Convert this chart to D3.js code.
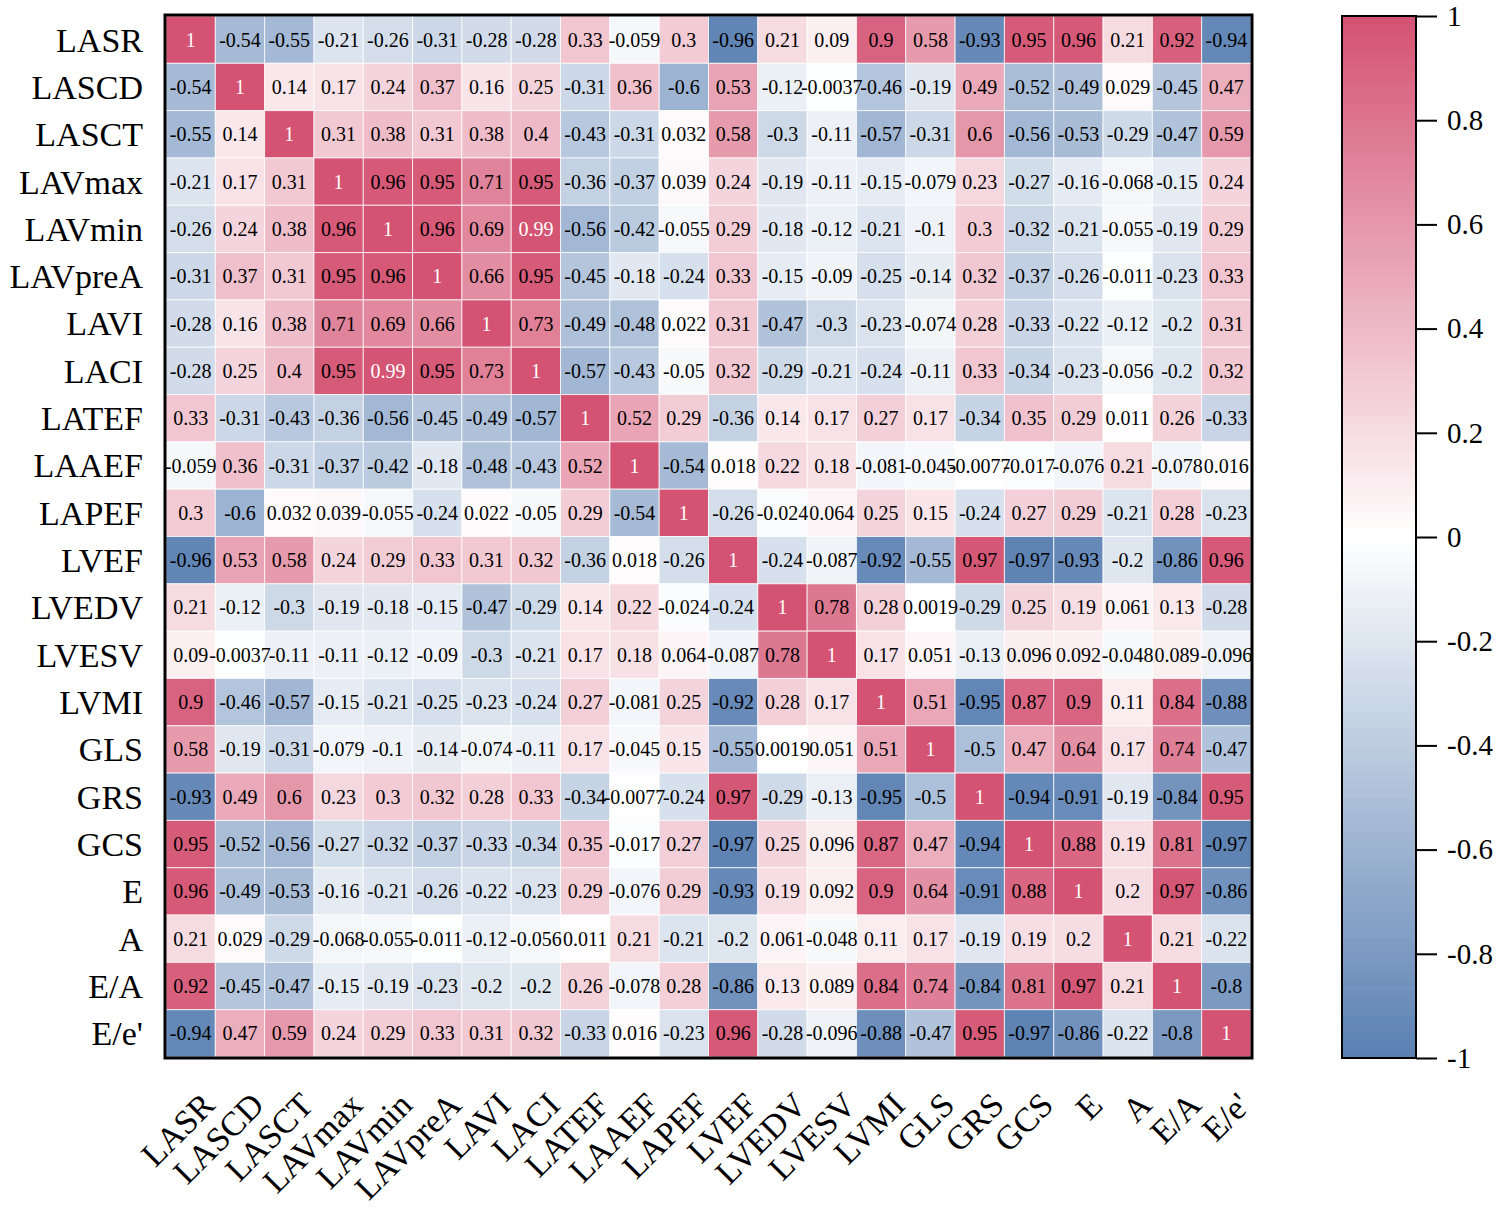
<!DOCTYPE html>
<html>
<head>
<meta charset="utf-8">
<script src="https://cdn.jsdelivr.net/npm/d3@7"></script>
<style>
  html, body { margin: 0; padding: 0; background: #fff; }
  svg { display: block; }
  text { font-family: "Liberation Serif", "Times New Roman", serif; }
</style>
</head>
<body>
<svg id="chart" width="1500" height="1211"></svg>
<script>
const variables = ["LASR","LASCD","LASCT","LAVmax","LAVmin","LAVpreA","LAVI","LACI","LATEF","LAAEF","LAPEF","LVEF","LVEDV","LVESV","LVMI","GLS","GRS","GCS","E","A","E/A","E/e'"];

const rowLASR   = [1, -0.54, -0.55, -0.21, -0.26, -0.31, -0.28, -0.28, 0.33, -0.059, 0.3, -0.96, 0.21, 0.09, 0.9, 0.58, -0.93, 0.95, 0.96, 0.21, 0.92, -0.94];
const rowLASCD  = [-0.54, 1, 0.14, 0.17, 0.24, 0.37, 0.16, 0.25, -0.31, 0.36, -0.6, 0.53, -0.12, -0.0037, -0.46, -0.19, 0.49, -0.52, -0.49, 0.029, -0.45, 0.47];
const rowLASCT  = [-0.55, 0.14, 1, 0.31, 0.38, 0.31, 0.38, 0.4, -0.43, -0.31, 0.032, 0.58, -0.3, -0.11, -0.57, -0.31, 0.6, -0.56, -0.53, -0.29, -0.47, 0.59];
const rowLAVmax = [-0.21, 0.17, 0.31, 1, 0.96, 0.95, 0.71, 0.95, -0.36, -0.37, 0.039, 0.24, -0.19, -0.11, -0.15, -0.079, 0.23, -0.27, -0.16, -0.068, -0.15, 0.24];
const rowLAVmin = [-0.26, 0.24, 0.38, 0.96, 1, 0.96, 0.69, 0.99, -0.56, -0.42, -0.055, 0.29, -0.18, -0.12, -0.21, -0.1, 0.3, -0.32, -0.21, -0.055, -0.19, 0.29];
const rowLAVpreA= [-0.31, 0.37, 0.31, 0.95, 0.96, 1, 0.66, 0.95, -0.45, -0.18, -0.24, 0.33, -0.15, -0.09, -0.25, -0.14, 0.32, -0.37, -0.26, -0.011, -0.23, 0.33];
const rowLAVI   = [-0.28, 0.16, 0.38, 0.71, 0.69, 0.66, 1, 0.73, -0.49, -0.48, 0.022, 0.31, -0.47, -0.3, -0.23, -0.074, 0.28, -0.33, -0.22, -0.12, -0.2, 0.31];
const rowLACI   = [-0.28, 0.25, 0.4, 0.95, 0.99, 0.95, 0.73, 1, -0.57, -0.43, -0.05, 0.32, -0.29, -0.21, -0.24, -0.11, 0.33, -0.34, -0.23, -0.056, -0.2, 0.32];
const rowLATEF  = [0.33, -0.31, -0.43, -0.36, -0.56, -0.45, -0.49, -0.57, 1, 0.52, 0.29, -0.36, 0.14, 0.17, 0.27, 0.17, -0.34, 0.35, 0.29, 0.011, 0.26, -0.33];
const rowLAAEF  = [-0.059, 0.36, -0.31, -0.37, -0.42, -0.18, -0.48, -0.43, 0.52, 1, -0.54, 0.018, 0.22, 0.18, -0.081, -0.045, -0.0077, -0.017, -0.076, 0.21, -0.078, 0.016];
const rowLAPEF  = [0.3, -0.6, 0.032, 0.039, -0.055, -0.24, 0.022, -0.05, 0.29, -0.54, 1, -0.26, -0.024, 0.064, 0.25, 0.15, -0.24, 0.27, 0.29, -0.21, 0.28, -0.23];
const rowLVEF   = [-0.96, 0.53, 0.58, 0.24, 0.29, 0.33, 0.31, 0.32, -0.36, 0.018, -0.26, 1, -0.24, -0.087, -0.92, -0.55, 0.97, -0.97, -0.93, -0.2, -0.86, 0.96];
const rowLVEDV  = [0.21, -0.12, -0.3, -0.19, -0.18, -0.15, -0.47, -0.29, 0.14, 0.22, -0.024, -0.24, 1, 0.78, 0.28, 0.0019, -0.29, 0.25, 0.19, 0.061, 0.13, -0.28];
const rowLVESV  = [0.09, -0.0037, -0.11, -0.11, -0.12, -0.09, -0.3, -0.21, 0.17, 0.18, 0.064, -0.087, 0.78, 1, 0.17, 0.051, -0.13, 0.096, 0.092, -0.048, 0.089, -0.096];
const rowLVMI   = [0.9, -0.46, -0.57, -0.15, -0.21, -0.25, -0.23, -0.24, 0.27, -0.081, 0.25, -0.92, 0.28, 0.17, 1, 0.51, -0.95, 0.87, 0.9, 0.11, 0.84, -0.88];
const rowGLS    = [0.58, -0.19, -0.31, -0.079, -0.1, -0.14, -0.074, -0.11, 0.17, -0.045, 0.15, -0.55, 0.0019, 0.051, 0.51, 1, -0.5, 0.47, 0.64, 0.17, 0.74, -0.47];
const rowGRS    = [-0.93, 0.49, 0.6, 0.23, 0.3, 0.32, 0.28, 0.33, -0.34, -0.0077, -0.24, 0.97, -0.29, -0.13, -0.95, -0.5, 1, -0.94, -0.91, -0.19, -0.84, 0.95];
const rowGCS    = [0.95, -0.52, -0.56, -0.27, -0.32, -0.37, -0.33, -0.34, 0.35, -0.017, 0.27, -0.97, 0.25, 0.096, 0.87, 0.47, -0.94, 1, 0.88, 0.19, 0.81, -0.97];
const rowE      = [0.96, -0.49, -0.53, -0.16, -0.21, -0.26, -0.22, -0.23, 0.29, -0.076, 0.29, -0.93, 0.19, 0.092, 0.9, 0.64, -0.91, 0.88, 1, 0.2, 0.97, -0.86];
const rowA      = [0.21, 0.029, -0.29, -0.068, -0.055, -0.011, -0.12, -0.056, 0.011, 0.21, -0.21, -0.2, 0.061, -0.048, 0.11, 0.17, -0.19, 0.19, 0.2, 1, 0.21, -0.22];
const rowEA     = [0.92, -0.45, -0.47, -0.15, -0.19, -0.23, -0.2, -0.2, 0.26, -0.078, 0.28, -0.86, 0.13, 0.089, 0.84, 0.74, -0.84, 0.81, 0.97, 0.21, 1, -0.8];
const rowEe     = [-0.94, 0.47, 0.59, 0.24, 0.29, 0.33, 0.31, 0.32, -0.33, 0.016, -0.23, 0.96, -0.28, -0.096, -0.88, -0.47, 0.95, -0.97, -0.86, -0.22, -0.8, 1];

const matrixRows = [rowLASR,rowLASCD,rowLASCT,rowLAVmax,rowLAVmin,rowLAVpreA,rowLAVI,rowLACI,rowLATEF,rowLAAEF,rowLAPEF,rowLVEF,rowLVEDV,rowLVESV,rowLVMI,rowGLS,rowGRS,rowGCS,rowE,rowA,rowEA,rowEe];

const colorbarTicks = [1, 0.8, 0.6, 0.4, 0.2, 0, -0.2, -0.4, -0.6, -0.8, -1];
const colorStops = ["#5A80B2", "#FFFFFF", "#D45272"];

// ---- layout ----
const svg = d3.select("#chart");
const L = 166, T = 16, R = 1251, B = 1057;

const x = d3.scaleBand().domain(variables).range([L, R]).padding(0);
const y = d3.scaleBand().domain(variables).range([T, B]).padding(0);
const color = d3.scaleLinear().domain([-1, 0, 1]).range(colorStops).interpolate(d3.interpolateRgb);

const cells = [];
matrixRows.forEach((row, i) => row.forEach((v, j) => cells.push({r: variables[i], c: variables[j], v})));

const g = svg.append("g");
g.selectAll("rect.cell").data(cells).join("rect")
  .attr("class", "cell")
  .attr("x", d => x(d.c)).attr("y", d => y(d.r))
  .attr("width", x.bandwidth()).attr("height", y.bandwidth())
  .attr("fill", d => color(d.v))
  .attr("stroke", "#ffffff").attr("stroke-opacity", 0.75).attr("stroke-width", 1);

g.selectAll("text.val").data(cells).join("text")
  .attr("class", "val")
  .attr("x", d => x(d.c) + x.bandwidth() / 2)
  .attr("y", d => y(d.r) + y.bandwidth() / 2)
  .attr("dy", "0.35em")
  .attr("text-anchor", "middle")
  .attr("font-size", 20)
  .attr("fill", d => d.v >= 0.99 ? "#ffffff" : "#000000")
  .text(d => String(d.v));

// frame
svg.append("rect").attr("x", L - 1).attr("y", T - 1).attr("width", R - L + 2).attr("height", B - T + 2)
  .attr("fill", "none").attr("stroke", "#000").attr("stroke-width", 3);

// row labels
svg.append("g").selectAll("text").data(variables).join("text")
  .attr("x", 143)
  .attr("y", d => y(d) + y.bandwidth() / 2)
  .attr("dy", "0.35em")
  .attr("text-anchor", "end")
  .attr("font-size", 34)
  .text(d => d);

// column labels (rotated -45°)
const bw = x.bandwidth();
svg.append("g").selectAll("text").data(variables).join("text")
  .attr("transform", d => `translate(${x(d) + bw / 2 + 26},1107) rotate(-45)`)
  .attr("text-anchor", "end")
  .attr("font-size", 34)
  .text(d => d);

// colorbar
const cbX = 1342, cbW = 74;
const cy = d3.scaleLinear().domain([-1, 1]).range([B + 1, T]);
const steps = d3.range(0, 120).map(k => -1 + (k + 0.5) * 2 / 120);
svg.append("g").selectAll("rect").data(steps).join("rect")
  .attr("x", cbX).attr("width", cbW)
  .attr("y", d => cy(d + 1 / 120) - 0.3)
  .attr("height", Math.abs(cy(0) - cy(2 / 120)) + 0.6)
  .attr("fill", d => color(d));
svg.append("rect").attr("x", cbX).attr("y", T).attr("width", cbW).attr("height", B + 1 - T)
  .attr("fill", "none").attr("stroke", "#000").attr("stroke-width", 2);

const cbAxis = d3.axisRight(cy).tickValues(colorbarTicks).tickSize(21).tickPadding(10).tickFormat(d => String(d));
const ax = svg.append("g").attr("transform", `translate(${cbX + cbW},0)`).call(cbAxis);
ax.select(".domain").remove();
ax.selectAll(".tick line").attr("stroke", "#000").attr("stroke-width", 2);
ax.selectAll(".tick text").attr("font-family", "Liberation Serif, serif").attr("font-size", 29).attr("fill", "#000");
</script>
</body>
</html>
